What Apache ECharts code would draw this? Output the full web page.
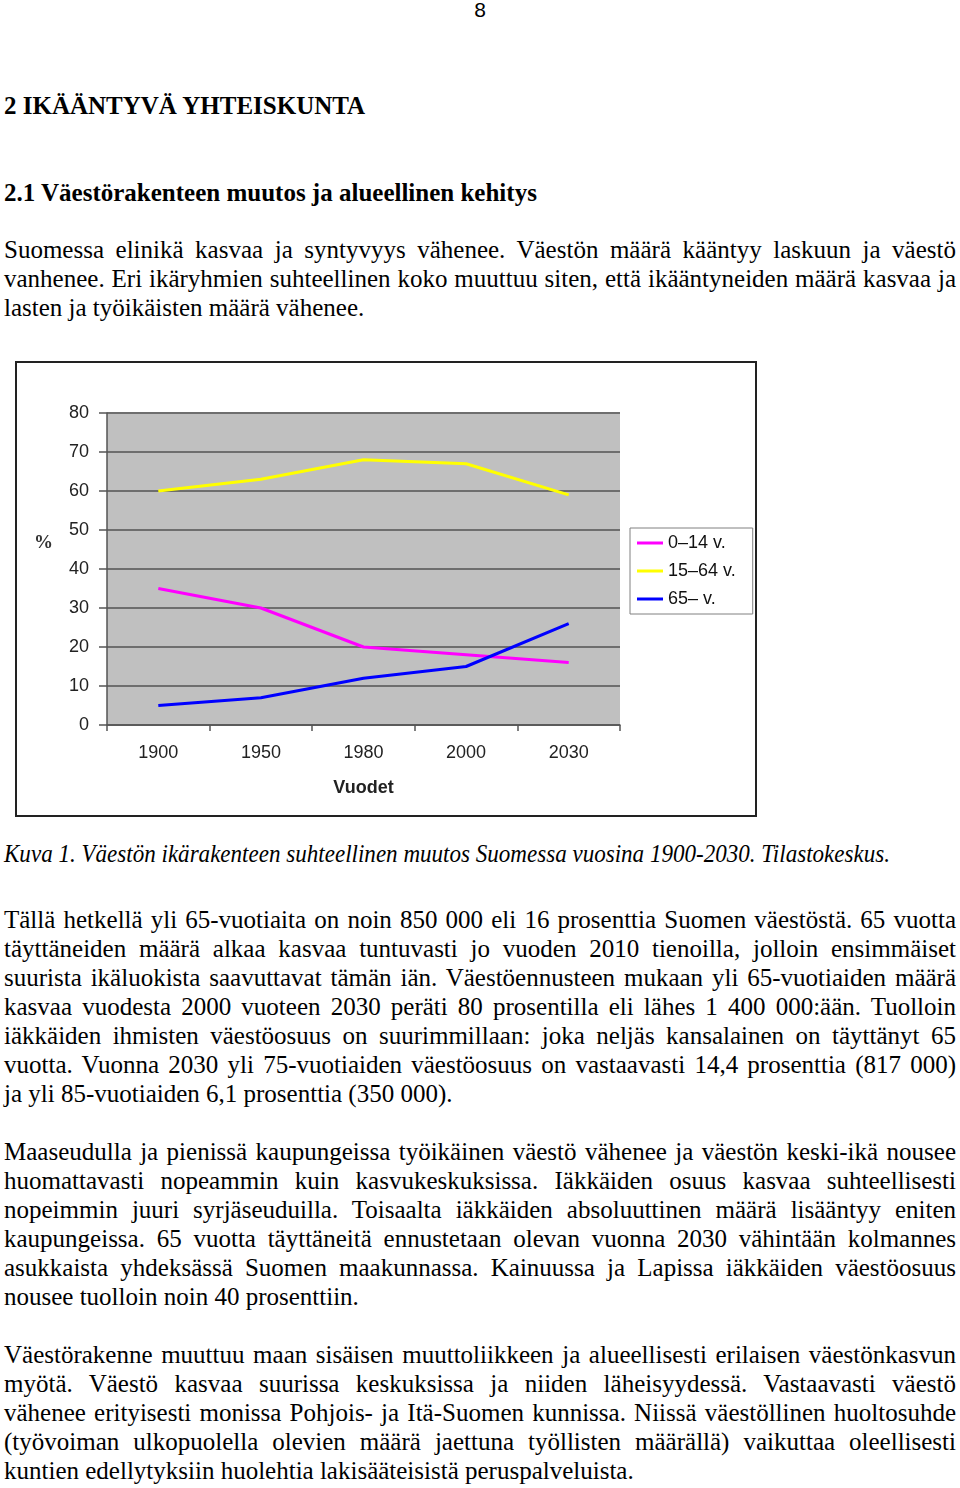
<!DOCTYPE html>
<html>
<head>
<meta charset="utf-8">
<script src="https://cdn.jsdelivr.net/npm/echarts@6/dist/echarts.min.js"></script>
<style>
  html, body { margin:0; padding:0; background:#fff; }
  body { width:960px; height:1488px; position:relative; overflow:hidden;
         font-family:"Liberation Serif","Times New Roman",serif; font-size:25px; color:#000; }
  .t { position:absolute; left:4px; width:952px; line-height:29px; white-space:nowrap; }
  .j { text-align:justify; text-align-last:justify; }
  .b { font-weight:bold; }
  #cap { position:absolute; left:4px; line-height:29px; white-space:nowrap; font-style:italic;
         display:inline-block; transform-origin:0 50%; }
  #pg { position:absolute; left:0; width:960px; top:-2px; text-align:center;
        font-family:"Liberation Sans",Arial,sans-serif; font-size:21px; line-height:24px; }
  #chart { position:absolute; left:15px; top:361px; width:738px; height:452px; border:2px solid #222; }
</style>
</head>
<body>
<div id="pg">8</div>
<div class="t b" style="top:91px">2 IKÄÄNTYVÄ YHTEISKUNTA</div>
<div class="t b" style="top:178px">2.1 Väestörakenteen muutos ja alueellinen kehitys</div>

<div class="t j" style="top:235px">Suomessa elinikä kasvaa ja syntyvyys vähenee. Väestön määrä kääntyy laskuun ja väestö</div>
<div class="t j" style="top:264px">vanhenee. Eri ikäryhmien suhteellinen koko muuttuu siten, että ikääntyneiden määrä kasvaa ja</div>
<div class="t" style="top:293px">lasten ja työikäisten määrä vähenee.</div>

<div id="chart"></div>

<span id="cap" style="top:839px">Kuva 1. Väestön ikärakenteen suhteellinen muutos Suomessa vuosina 1900-2030. Tilastokeskus.</span>

<div class="t j" style="top:905px">Tällä hetkellä yli 65-vuotiaita on noin 850 000 eli 16 prosenttia Suomen väestöstä. 65 vuotta</div>
<div class="t j" style="top:934px">täyttäneiden määrä alkaa kasvaa tuntuvasti jo vuoden 2010 tienoilla, jolloin ensimmäiset</div>
<div class="t j" style="top:963px">suurista ikäluokista saavuttavat tämän iän. Väestöennusteen mukaan yli 65-vuotiaiden määrä</div>
<div class="t j" style="top:992px">kasvaa vuodesta 2000 vuoteen 2030 peräti 80 prosentilla eli lähes 1 400 000:ään. Tuolloin</div>
<div class="t j" style="top:1021px">iäkkäiden ihmisten väestöosuus on suurimmillaan: joka neljäs kansalainen on täyttänyt 65</div>
<div class="t j" style="top:1050px">vuotta. Vuonna 2030 yli 75-vuotiaiden väestöosuus on vastaavasti 14,4 prosenttia (817 000)</div>
<div class="t" style="top:1079px">ja yli 85-vuotiaiden 6,1 prosenttia (350 000).</div>

<div class="t j" style="top:1137px">Maaseudulla ja pienissä kaupungeissa työikäinen väestö vähenee ja väestön keski-ikä nousee</div>
<div class="t j" style="top:1166px">huomattavasti nopeammin kuin kasvukeskuksissa. Iäkkäiden osuus kasvaa suhteellisesti</div>
<div class="t j" style="top:1195px">nopeimmin juuri syrjäseuduilla. Toisaalta iäkkäiden absoluuttinen määrä lisääntyy eniten</div>
<div class="t j" style="top:1224px">kaupungeissa. 65 vuotta täyttäneitä ennustetaan olevan vuonna 2030 vähintään kolmannes</div>
<div class="t j" style="top:1253px">asukkaista yhdeksässä Suomen maakunnassa. Kainuussa ja Lapissa iäkkäiden väestöosuus</div>
<div class="t" style="top:1282px">nousee tuolloin noin 40 prosenttiin.</div>

<div class="t j" style="top:1340px">Väestörakenne muuttuu maan sisäisen muuttoliikkeen ja alueellisesti erilaisen väestönkasvun</div>
<div class="t j" style="top:1369px">myötä. Väestö kasvaa suurissa keskuksissa ja niiden läheisyydessä. Vastaavasti väestö</div>
<div class="t j" style="top:1398px">vähenee erityisesti monissa Pohjois- ja Itä-Suomen kunnissa. Niissä väestöllinen huoltosuhde</div>
<div class="t j" style="top:1427px">(työvoiman ulkopuolella olevien määrä jaettuna työllisten määrällä) vaikuttaa oleellisesti</div>
<div class="t" style="top:1456px">kuntien edellytyksiin huolehtia lakisääteisistä peruspalveluista.</div>

<script>
// ---- data ----
const years = ['1900', '1950', '1980', '2000', '2030'];
const age0to14 = [35, 30, 20, 18, 16];
const age15to64 = [60, 63, 68, 67, 59];
const age65plus = [5, 7, 12, 15, 26];
const seriesNames = ['0–14 v.', '15–64 v.', '65– v.'];
const yAxisMin = 0, yAxisMax = 80, yAxisStep = 10;
const xAxisTitle = 'Vuodet';
const yAxisTitle = '%';

// fit the italic caption to the width it has in the source page
(function () {
  const cap = document.getElementById('cap');
  const w = cap.getBoundingClientRect().width;
  if (w > 0) cap.style.transform = 'scaleX(' + (886 / w) + ')';
})();

// ---- chart ----
const chart = echarts.init(document.getElementById('chart'), null, { renderer: 'canvas' });
const labelFont = '"Liberation Sans", Arial, sans-serif';
const colors = ['#ff00ff', '#ffff00', '#0000ff'];
const values = [age0to14, age15to64, age65plus];

chart.setOption({
  animation: false,
  backgroundColor: '#ffffff',
  grid: {
    left: 90, top: 50, width: 513, height: 312,
    show: true, backgroundColor: '#c0c0c0', borderWidth: 0
  },
  legend: {
    orient: 'vertical',
    left: 613, top: 165,
    padding: [6, 17, 6, 7],
    backgroundColor: '#ffffff',
    borderColor: '#808080', borderWidth: 1,
    itemWidth: 26, itemHeight: 3, itemGap: 10,
    icon: 'rect',
    data: seriesNames,
    textStyle: { fontFamily: labelFont, fontSize: 18, color: '#111' }
  },
  xAxis: {
    type: 'category',
    data: years,
    boundaryGap: true,
    name: xAxisTitle,
    nameLocation: 'middle',
    nameGap: 54,
    nameTextStyle: { fontFamily: labelFont, fontSize: 18, fontWeight: 'bold', color: '#222' },
    axisLine: { show: true, lineStyle: { color: '#555', width: 1.5 } },
    axisTick: { show: true, length: 6, alignWithLabel: false, lineStyle: { color: '#555', width: 1.5 } },
    axisLabel: { fontFamily: labelFont, fontSize: 18, color: '#222', margin: 19 },
    splitLine: { show: false }
  },
  yAxis: {
    type: 'value',
    min: yAxisMin, max: yAxisMax, interval: yAxisStep,
    axisLine: { show: true, lineStyle: { color: '#555', width: 1.5 } },
    axisTick: { show: true, length: 8, lineStyle: { color: '#555', width: 1.5 } },
    axisLabel: { fontFamily: labelFont, fontSize: 18, color: '#222', margin: 18 },
    splitLine: { show: true, lineStyle: { color: '#6e6e6e', width: 2 } }
  },
  graphic: [{
    type: 'text',
    left: 17, top: 171,
    style: { text: yAxisTitle, font: 'bold 19px "Liberation Serif", "Times New Roman", serif', fill: '#333' }
  }],
  series: seriesNames.map((name, i) => ({
    name: name,
    type: 'line',
    data: values[i],
    symbol: 'none',
    smooth: false,
    lineStyle: { color: colors[i], width: 3 },
    itemStyle: { color: colors[i] },
    z: 3
  }))
});
</script>
</body>
</html>
